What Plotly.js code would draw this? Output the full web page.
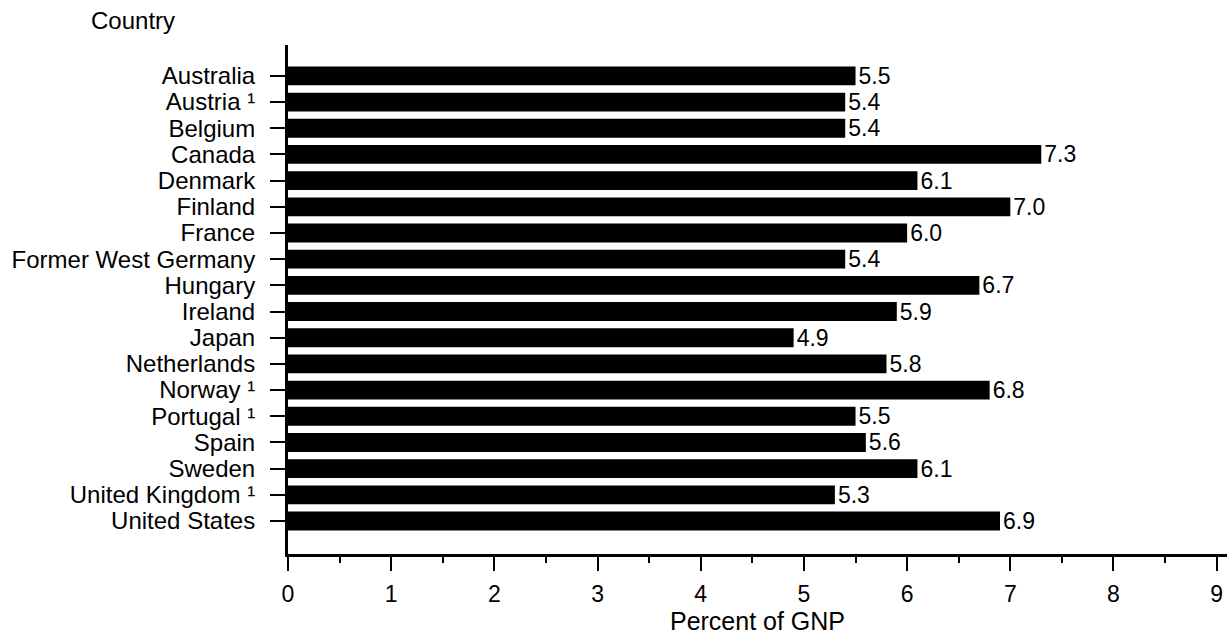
<!DOCTYPE html>
<html>
<head>
<meta charset="utf-8">
<script src="https://cdn.plot.ly/plotly-3.0.1.min.js"></script>
<style>
  html, body { margin: 0; padding: 0; background: #fff; }
  #chart { width: 1227px; height: 638px; }
</style>
</head>
<body>
<div id="chart"></div>
<script>
const countries = [
  "Australia", "Austria \u00b9", "Belgium", "Canada", "Denmark", "Finland",
  "France", "Former West Germany", "Hungary", "Ireland", "Japan", "Netherlands",
  "Norway \u00b9", "Portugal \u00b9", "Spain", "Sweden",
  "United Kingdom \u00b9", "United States"
];
const percentGNP = [5.5, 5.4, 5.4, 7.3, 6.1, 7.0, 6.0, 5.4, 6.7, 5.9, 4.9, 5.8, 6.8, 5.5, 5.6, 6.1, 5.3, 6.9];
const valueLabels = percentGNP.map(v => v.toFixed(1));
const xTickVals = [0, 1, 2, 3, 4, 5, 6, 7, 8, 9];
const xTitle = "Percent of GNP";
const yTitle = "Country";

const FONT = "Liberation Sans, Arial, Helvetica, sans-serif";

const trace = {
  type: "bar",
  orientation: "h",
  y: countries,
  x: percentGNP,
  text: valueLabels,
  textposition: "outside",
  texttemplate: "%{text}",
  constraintext: "none",
  cliponaxis: false,
  textfont: { family: FONT, size: 23, color: "#000" },
  marker: { color: "#000", line: { width: 0 } },
  width: 0.72,
  hoverinfo: "skip"
};

const layout = {
  width: 1227,
  height: 638,
  margin: { l: 288, r: 0, t: 45, b: 84 },
  paper_bgcolor: "#fff",
  plot_bgcolor: "#fff",
  showlegend: false,
  font: { family: FONT, size: 23, color: "#000" },
  xaxis: {
    range: [0, 9.1],
    tickmode: "array",
    tickvals: xTickVals,
    ticktext: xTickVals.map(String),
    ticks: "outside",
    ticklen: 14,
    tickwidth: 2,
    tickcolor: "#000",
    ticklabelstandoff: 3,
    minor: { dtick: 0.5, tick0: 0, ticks: "outside", ticklen: 6, tickwidth: 2, tickcolor: "#000", showgrid: false },
    showline: true,
    linecolor: "#000",
    linewidth: 3,
    showgrid: false,
    zeroline: false,
    tickfont: { family: FONT, size: 23, color: "#000" },
    title: { text: xTitle, font: { family: FONT, size: 25, color: "#000" }, standoff: 2 }
  },
  yaxis: {
    type: "category",
    range: [18.26, -1.18],
    tickmode: "array",
    tickvals: countries,
    ticktext: countries,
    ticks: "outside",
    ticklen: 15,
    tickwidth: 2,
    tickcolor: "#000",
    ticklabelstandoff: 10,
    showline: true,
    linecolor: "#000",
    linewidth: 3,
    showgrid: false,
    zeroline: false,
    tickfont: { family: FONT, size: 24, color: "#000" }
  },
  annotations: [
    {
      text: yTitle,
      xref: "paper", yref: "paper",
      x: -0.212, y: 1 + 24 / 509,
      xanchor: "left", yanchor: "middle",
      showarrow: false,
      font: { family: FONT, size: 24, color: "#000" }
    }
  ]
};

Plotly.newPlot("chart", [trace], layout, { displayModeBar: false, staticPlot: true });
</script>
</body>
</html>
